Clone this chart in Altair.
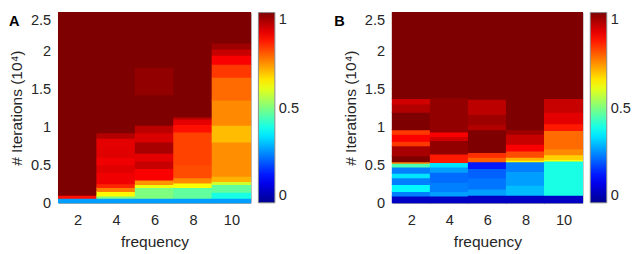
import altair as alt
import pandas as pd

# ---------------- data ----------------
FREQS = [2, 4, 6, 8, 10]
Y_TICKS = [0, 0.5, 1, 1.5, 2, 2.5]
CBAR_TICKS = [0, 0.5, 1]

# jet colormap stops
JET_STOPS = [0, 0.125, 0.25, 0.375, 0.5, 0.625, 0.75, 0.875, 1]
JET_COLORS = ["#00008f", "#0000ff", "#007fff", "#00ffff", "#7fff7f",
              "#ffff00", "#ff7f00", "#ff0000", "#7f0000"]

# Panel A: band edges (# iterations, 10^4) and values per frequency column
A2_EDGES = [0, 0.06, 0.1, 2.5]
A2_VALUES = [0.28, 0.86, 1.0]
A4_EDGES = [0, 0.06, 0.09, 0.15, 0.2, 0.25, 0.4, 0.5, 0.6, 0.7, 0.85, 0.92, 2.5]
A4_VALUES = [0.28, 0.5, 0.63, 0.75, 0.84, 0.89, 0.905, 0.89, 0.905, 0.9, 0.95, 1.0]
A6_EDGES = [0, 0.06, 0.2, 0.24, 0.3, 0.45, 0.55, 0.65, 0.8, 0.92, 1.02, 1.42, 1.78, 2.5]
A6_VALUES = [0.28, 0.5, 0.61, 0.73, 0.88, 0.93, 0.9, 0.96, 0.91, 0.94, 1.0, 0.98, 1.0]
A8_EDGES = [0, 0.06, 0.2, 0.26, 0.33, 0.5, 0.93, 1.03, 1.1, 1.13, 2.5]
A8_VALUES = [0.28, 0.47, 0.62, 0.74, 0.8, 0.81, 0.86, 0.9, 0.95, 1.0]
A10_EDGES = [0, 0.06, 0.14, 0.24, 0.28, 0.35, 0.8, 1.02, 1.35, 1.65, 1.82, 1.94, 2.02, 2.1, 2.5]
A10_VALUES = [0.28, 0.4, 0.47, 0.58, 0.7, 0.735, 0.69, 0.74, 0.77, 0.82, 0.88, 0.93, 0.97, 1.0]

# Panel B
B2_EDGES = [0, 0.09, 0.15, 0.24, 0.33, 0.39, 0.47, 0.52, 0.54, 0.62, 0.75, 0.81, 0.9,
            0.96, 1.19, 1.3, 1.37, 2.5]
B2_VALUES = [0.06, 0.25, 0.37, 0.25, 0.35, 0.25, 0.45, 0.75, 1.0, 0.96, 0.82, 0.88,
             0.82, 1.0, 0.95, 0.92, 1.0]
B4_EDGES = [0, 0.09, 0.15, 0.27, 0.4, 0.47, 0.53, 0.64, 0.82, 0.87, 0.93, 1.38, 2.5]
B4_VALUES = [0.06, 0.28, 0.25, 0.23, 0.28, 0.35, 0.85, 0.98, 0.92, 0.88, 0.98, 1.0]
B6_EDGES = [0, 0.1, 0.18, 0.33, 0.45, 0.54, 0.6, 0.66, 0.96, 1.03, 1.16, 1.36, 2.5]
B6_VALUES = [0.06, 0.28, 0.24, 0.22, 0.15, 0.78, 0.83, 1.0, 0.95, 0.97, 0.94, 1.0]
B8_EDGES = [0, 0.1, 0.23, 0.41, 0.54, 0.56, 0.6, 0.68, 0.77, 0.9, 0.96, 2.5]
B8_VALUES = [0.06, 0.31, 0.28, 0.25, 0.63, 0.7, 0.8, 0.88, 0.93, 0.97, 1.0]
B10_EDGES = [0, 0.1, 0.55, 0.57, 0.63, 0.71, 0.95, 1.04, 1.19, 1.37, 2.5]
B10_VALUES = [0.06, 0.4, 0.62, 0.67, 0.74, 0.77, 0.85, 0.9, 0.93, 1.0]

A_EDGES = [A2_EDGES, A4_EDGES, A6_EDGES, A8_EDGES, A10_EDGES]
A_VALUES = [A2_VALUES, A4_VALUES, A6_VALUES, A8_VALUES, A10_VALUES]
B_EDGES = [B2_EDGES, B4_EDGES, B6_EDGES, B8_EDGES, B10_EDGES]
B_VALUES = [B2_VALUES, B4_VALUES, B6_VALUES, B8_VALUES, B10_VALUES]


def table(edges_list, values_list):
    rows = []
    for f, edges, vals in zip(FREQS, edges_list, values_list):
        for lo, hi, v in zip(edges[:-1], edges[1:], vals):
            rows.append({"f0": f - 1, "f1": f + 1, "y0": lo, "y1": hi, "v": v})
    return pd.DataFrame(rows)


FONT = "Liberation Sans"
TXT = "#262626"


def jet_scale():
    return alt.Scale(domain=JET_STOPS, range=JET_COLORS, interpolate="rgb")


def panel(df, letter, width, dx):
    x = alt.X("f0:Q",
              scale=alt.Scale(domain=[1, 11], nice=False, zero=False),
              axis=alt.Axis(values=FREQS, title="frequency", grid=False, ticks=False,
                            domain=False, labelFontSize=15, titleFontSize=16,
                            labelFont=FONT, titleFont=FONT, labelColor=TXT,
                            titleColor=TXT, titleFontWeight="normal",
                            labelPadding=10, titlePadding=7, labelFlush=False))
    y = alt.Y("y0:Q",
              scale=alt.Scale(domain=[0, 2.5], nice=False, zero=False),
              axis=alt.Axis(values=Y_TICKS, format="~g", title="# Iterations (10\u2074)",
                            grid=False, ticks=False, domain=False,
                            labelFontSize=15, titleFontSize=16, labelFont=FONT,
                            titleFont=FONT, labelColor=TXT, titleColor=TXT,
                            titleFontWeight="normal", labelPadding=8, titlePadding=6,
                            labelFlush=False,
                            labelBaseline={"condition": {"test": "datum.value >= 2.5",
                                                         "value": "top"},
                                           "value": "middle"}))
    color = alt.Color("v:Q", scale=jet_scale(),
                      legend=alt.Legend(type="gradient", values=CBAR_TICKS, format="~g",
                                        title=None, orient="right", direction="vertical",
                                        gradientLength=196, gradientThickness=17,
                                        gradientStrokeColor="#888888",
                                        gradientStrokeWidth=1, offset=8, padding=0,
                                        labelFontSize=15, labelFont=FONT,
                                        labelColor=TXT, labelOffset=4,
                                        labelOverlap=False))
    title = alt.TitleParams(letter, anchor="start", frame="bounds", fontSize=15,
                            font=FONT, fontWeight="bold", color="#000000",
                            baseline="top", offset=-17, dx=dx)
    return alt.Chart(df, title=title).mark_rect(
        strokeWidth=0, xOffset=-0.5, x2Offset=0.5, yOffset=0.5, y2Offset=-0.5
    ).encode(
        x=x, x2="f1:Q", y=y, y2="y1:Q", color=color
    ).properties(width=width, height=196)


chart_a = panel(table(A_EDGES, A_VALUES), "A", 198, 0)
chart_b = panel(table(B_EDGES, B_VALUES), "B", 196, -9)

chart = alt.hconcat(chart_a, chart_b, spacing=34).resolve_scale(
    color="independent"
).configure_view(stroke="#8c8c8c", strokeWidth=1).properties(
    padding={"left": 0, "right": 0, "top": 0, "bottom": 0},
    background="white",
)

chart.save("out.html", embed_options={"renderer": "svg", "actions": False})
